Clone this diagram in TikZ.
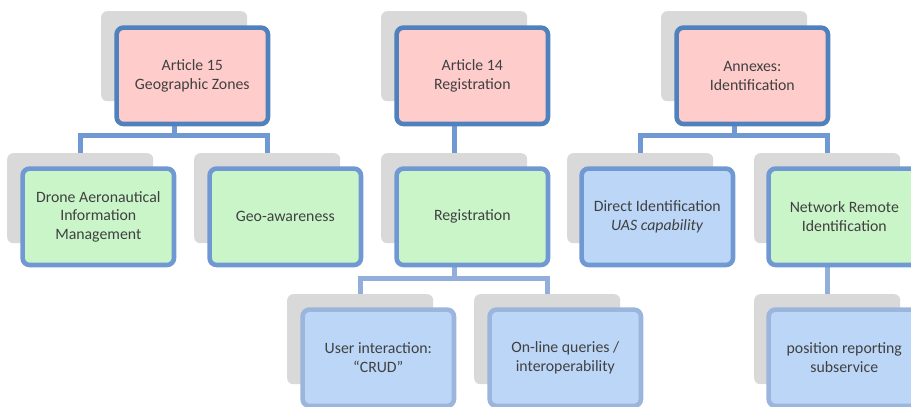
\documentclass[tikz,border=0pt]{standalone}
\usepackage{fontspec}
\setmainfont{Carlito}
\definecolor{txt}{HTML}{404040}
\definecolor{shade}{HTML}{D9D9D9}
\definecolor{edgeA}{HTML}{4F81BD}
\definecolor{edgeB}{HTML}{7098D2}
\definecolor{edgeC}{HTML}{9CB5DC}
\definecolor{linkA}{HTML}{7098D2}
\definecolor{linkB}{HTML}{93AEDB}
\definecolor{pinkfill}{HTML}{FFCCCC}
\definecolor{greenfill}{HTML}{C9F5C9}
\definecolor{bluefill}{HTML}{BBD6F7}
\tikzset{
  back/.style={fill=shade, rounded corners=6pt, minimum width=146pt,
    minimum height=90pt, inner sep=0pt, anchor=north west},
  card/.style={rounded corners=7pt, line width=4.6pt, minimum width=151.4pt,
    minimum height=96.4pt, inner sep=2pt, anchor=north west, align=center,
    text=txt, font=\fontsize{15.8}{18.5}\selectfont},
  lvlA/.style={card, draw=edgeA, fill=pinkfill},
  lvlB/.style={card, draw=edgeB},
  lvlC/.style={card, draw=edgeC, fill=bluefill},
  linkone/.style={draw=linkA, line width=5pt, line join=miter},
  linktwo/.style={draw=linkB, line width=5pt, line join=miter},
}
\begin{document}
\begin{tikzpicture}[x=1pt,y=-1pt]
\useasboundingbox (0,0) rectangle (911,407);

% shadow layer
\node[back] (s15)  at (101,11) {};
\node[back] (s14)  at (381,11) {};
\node[back] (sanx) at (661,11) {};
\node[back] (sdr)  at (7,153) {};
\node[back] (sgeo) at (194,153) {};
\node[back] (sreg) at (381,153) {};
\node[back] (sdir) at (567,153) {};
\node[back] (snet) at (754,153) {};
\node[back] (susr) at (287,294) {};
\node[back] (sonl) at (474,294) {};
\node[back] (spos) at (754,294) {};

% bar junctions
\coordinate (j15)  at (s15.south |- 0,135);
\coordinate (janx) at (sanx.south |- 0,135);
\coordinate (jreg) at (sreg.south |- 0,278);

% connectors
\draw[linkone] (sdr.north) |- (j15) -| (sgeo.north);
\draw[linkone] (j15) -- (s15.south |- 0,124);
\draw[linkone] (sreg.north) -- (s14.south |- 0,124);
\draw[linkone] (sdir.north) |- (janx) -| (snet.north);
\draw[linkone] (janx) -- (sanx.south |- 0,124);
\draw[linktwo] (susr.north) |- (jreg) -| (sonl.north);
\draw[linktwo] (jreg) -- (sreg.south |- 0,265);
\draw[linktwo] (spos.north) -- (spos.north |- 0,265);

% boxes
\node[lvlA] (a15) at (114.3,25.3) {Article 15\\Geographic Zones};
\node[lvlA] (a14) at (394.3,25.3) {Article 14\\Registration};
\node[lvlA] (anx) at (674.3,25.3) {Annexes:\\Identification};

\node[lvlB, fill=greenfill] (dr)  at (20.3,166.3) {Drone Aeronautical\\Information\\Management};
\node[lvlB, fill=greenfill] (geo) at (207.3,166.3) {Geo-awareness};
\node[lvlB, fill=greenfill] (reg) at (394.3,166.3) {Registration};
\node[lvlB, fill=bluefill]  (dir) at (579.3,166.3) {Direct Identification\\\textit{UAS capability}};
\node[lvlB, fill=greenfill] (net) at (766.3,166.3) {Network Remote\\Identification};

\node[lvlC] (usr) at (300.3,307.3) {User interaction:\\“CRUD”};
\node[lvlC] (onl) at (487.3,307.3) {On-line queries /\\interoperability};
\node[lvlC] (pos) at (766.3,307.3) {position reporting\\subservice};
\end{tikzpicture}
\end{document}
